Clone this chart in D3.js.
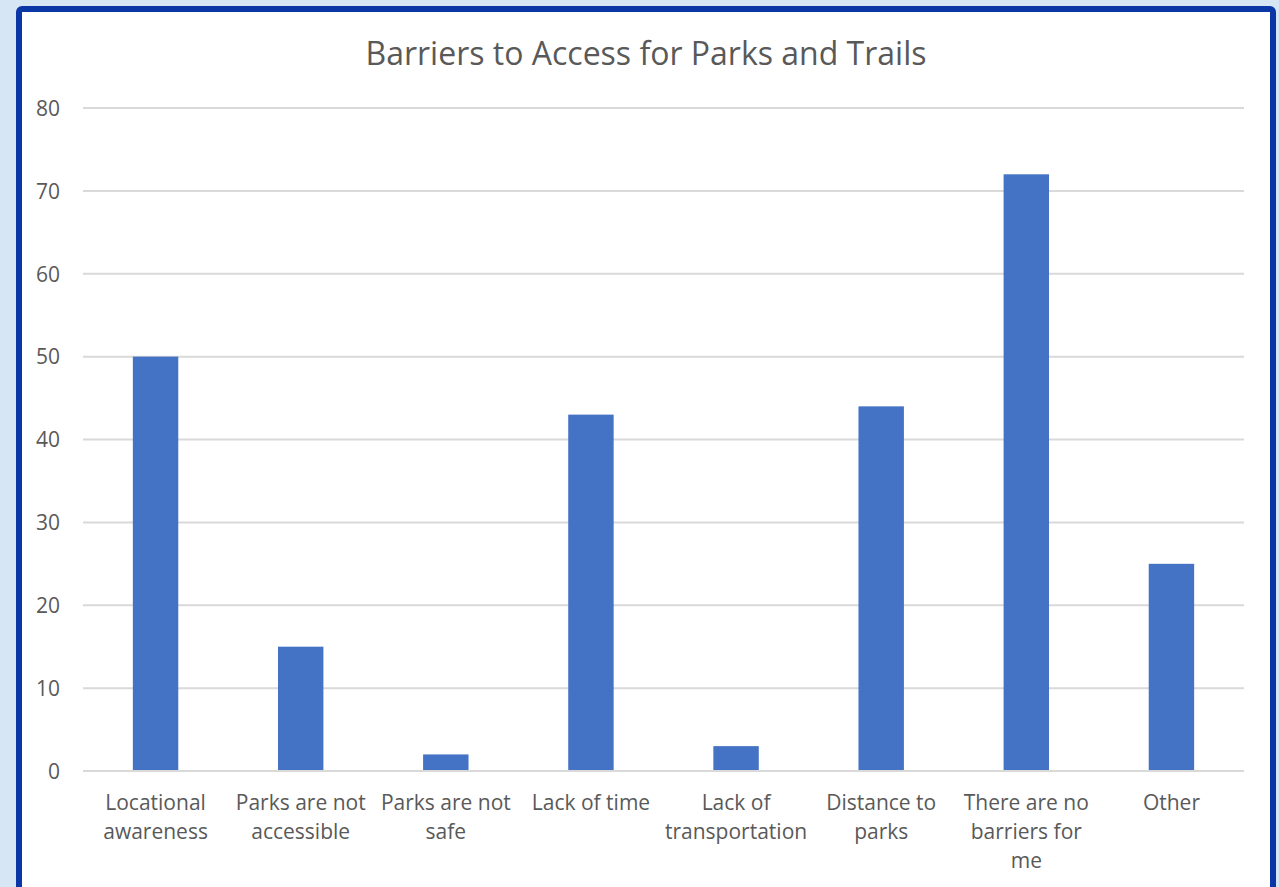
<!DOCTYPE html>
<html>
<head>
<meta charset="utf-8">
<script src="https://cdn.jsdelivr.net/npm/d3@7"></script>
<style>
  html, body { margin: 0; padding: 0; background: #d6e6f5; }
  svg { display: block; }
</style>
</head>
<body>
<svg id="chart" width="1279" height="887"></svg>
<script>
const categories = ["Locational awareness", "Parks are not accessible", "Parks are not safe", "Lack of time", "Lack of transportation", "Distance to parks", "There are no barriers for me", "Other"];
const values = [50, 15, 2, 43, 3, 44, 72, 25];
const yTicks = [0, 10, 20, 30, 40, 50, 60, 70, 80];
const title = "Barriers to Access for Parks and Trails";

const svg = d3.select("#chart");
const W = 1279, H = 887;
const font = "'Open Sans', 'Noto Sans', sans-serif";
const textColor = "#595959";

// Frame
svg.append("rect").attr("x", 0).attr("y", 0).attr("width", W).attr("height", H).attr("fill", "#d6e6f5");
svg.append("rect").attr("x", 19).attr("y", 9).attr("width", 1254).attr("height", 900)
  .attr("rx", 3).attr("fill", "#ffffff").attr("stroke", "#0a36a6").attr("stroke-width", 6);

const x = d3.scaleBand().domain(categories).range([83, 1244]).paddingInner(0.687).paddingOuter(0.3435);
const y = d3.scaleLinear().domain([0, 80]).range([771, 108]);

// Gridlines
svg.append("g").selectAll("line").data(yTicks).join("line")
  .attr("x1", 83).attr("x2", 1244)
  .attr("y1", d => y(d)).attr("y2", d => y(d))
  .attr("stroke", "#d9d9d9").attr("stroke-width", 2);

// Y axis labels
const yAxis = d3.axisLeft(y).tickValues(yTicks).tickSize(0).tickPadding(0);
const gy = svg.append("g").attr("transform", "translate(60,0)").call(yAxis);
gy.select(".domain").remove();
gy.selectAll("text").attr("font-family", font).attr("font-size", 21).attr("fill", textColor)
  .attr("dy", "0.35em");

// Bars
svg.append("g").selectAll("rect").data(values).join("rect")
  .attr("x", (d, i) => x(categories[i]))
  .attr("width", x.bandwidth())
  .attr("y", d => y(d))
  .attr("height", d => y(0) - y(d))
  .attr("fill", "#4472c4");

// zero line on top
svg.append("line").attr("x1", 83).attr("x2", 1244).attr("y1", y(0)).attr("y2", y(0))
  .attr("stroke", "#d9d9d9").attr("stroke-width", 2);

// X axis labels
const xAxis = d3.axisBottom(x).tickSize(0).tickPadding(0);
const gx = svg.append("g").attr("transform", "translate(0,771)").call(xAxis);
gx.select(".domain").remove();
gx.selectAll("text").each(function(d) {
  const t = d3.select(this);
  t.text(null).attr("font-family", font).attr("font-size", 21).attr("fill", textColor)
    .attr("text-anchor", "middle").attr("y", 0).attr("dy", null);
  const words = d.split(" ");
  const maxW = x.step() - 4;
  let lines = [];
  let cur = [];
  const tmp = t.append("tspan");
  words.forEach(w => {
    const trial = cur.concat([w]).join(" ");
    tmp.text(trial);
    if (tmp.node().getComputedTextLength() > maxW && cur.length) {
      lines.push(cur.join(" "));
      cur = [w];
    } else {
      cur.push(w);
    }
  });
  lines.push(cur.join(" "));
  tmp.remove();
  lines.forEach((ln, i) => {
    t.append("tspan").attr("x", 0).attr("y", 39 + i * 29).text(ln);
  });
});

// Title
svg.append("text").attr("x", 646).attr("y", 65).attr("text-anchor", "middle")
  .attr("font-family", font).attr("font-size", 32).attr("fill", textColor).text(title);
</script>
</body>
</html>
